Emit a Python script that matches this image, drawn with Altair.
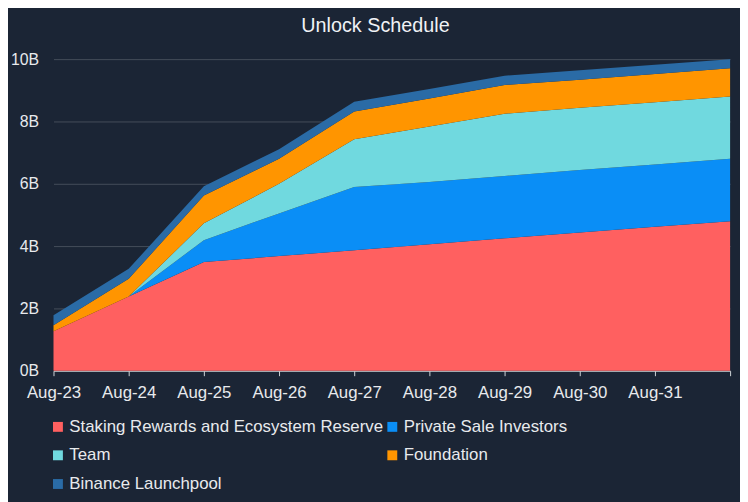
import altair as alt
import pandas as pd

periods = ["Aug-23", "Aug-24", "Aug-25", "Aug-26", "Aug-27",
           "Aug-28", "Aug-29", "Aug-30", "Aug-31", "Aug-32"]

# unlocked tokens per category, in billions
staking = [1.27, 2.38, 3.49, 3.68, 3.87, 4.06, 4.25, 4.44, 4.62, 4.80]
private = [0.00, 0.00, 0.70, 1.37, 2.03, 2.00, 2.00, 2.00, 2.00, 2.00]
team = [0.00, 0.00, 0.54, 0.95, 1.53, 1.78, 2.00, 2.00, 2.00, 2.00]
foundation = [0.19, 0.57, 0.89, 0.80, 0.89, 0.90, 0.92, 0.90, 0.90, 0.91]
launchpool = [0.32, 0.32, 0.30, 0.31, 0.31, 0.30, 0.30, 0.30, 0.30, 0.29]

names = ["Staking Rewards and Ecosystem Reserve", "Private Sale Investors",
         "Team", "Foundation", "Binance Launchpool"]
colors = ["#FF6060", "#0A8EF6", "#70D9DF", "#FF9500", "#2A6BA6"]
series = [staking, private, team, foundation, launchpool]

y_ticks = [0, 2, 4, 6, 8, 10]

rows = []
for rank, (name, vals) in enumerate(zip(names, series)):
    for p, v in zip(periods, vals):
        rows.append({"period": p, "series": name, "value": v, "rank": rank})
df = pd.DataFrame(rows)

FONT = "Liberation Sans"
TXT = "#e8eaed"

chart = alt.Chart(df).mark_area(opacity=1, interpolate="linear").encode(
    x=alt.X("period:O", sort=periods,
            scale=alt.Scale(type="point", padding=0),
            axis=alt.Axis(title=None, labelAngle=0,
                          labelExpr="datum.label == 'Aug-32' ? '' : datum.label",
                          domainColor="#cfd3d8", tickColor="#cfd3d8",
                          tickSize=5, labelPadding=9, labelFontSize=17,
                          labelColor=TXT, labelFont=FONT, grid=False)),
    y=alt.Y("value:Q", stack="zero",
            scale=alt.Scale(domain=[0, 10], nice=False),
            axis=alt.Axis(title=None, values=y_ticks,
                          labelExpr="datum.value + 'B'",
                          domain=False, ticks=False, labelPadding=15,
                          gridColor="#454d5a", gridWidth=1,
                          labelFontSize=16, labelColor=TXT, labelFont=FONT)),
    color=alt.Color("series:N",
                    scale=alt.Scale(domain=names, range=colors),
                    legend=alt.Legend(title=None, orient="none",
                                      direction="horizontal",
                                      legendX=-4, legendY=363, columns=2,
                                      symbolType="square", symbolSize=100,
                                      symbolStrokeWidth=0, labelFontSize=17,
                                      labelColor=TXT, labelFont=FONT,
                                      labelOffset=3, rowPadding=11,
                                      columnPadding=0, labelLimit=500)),
    order=alt.Order("rank:Q", sort="ascending"),
).properties(
    width=684, height=315,
    padding={"left": 46, "top": 49, "right": 10, "bottom": 130},
    autosize=alt.AutoSizeParams(type="none"),
    background="#1b2535",
    title=alt.TitleParams("Unlock Schedule", fontSize=20, color="#f0f2f5",
                          font=FONT, fontWeight="normal", anchor="middle",
                          frame="bounds", offset=15, dx=5),
).configure_view(stroke=None)

chart.save("out.html", embed_options={"renderer": "svg", "actions": False})
